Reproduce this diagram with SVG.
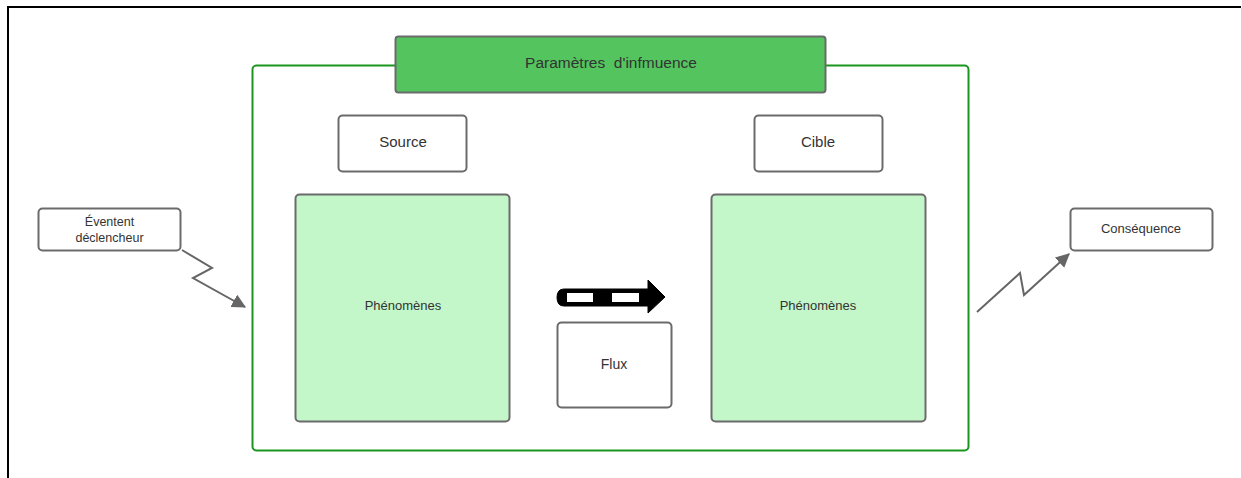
<svg xmlns="http://www.w3.org/2000/svg" width="1242" height="478" viewBox="0 0 1242 478">
  <defs>
    <style>
      .box { fill: #ffffff; stroke: #6b6b6b; stroke-width: 2; }
      .phen { fill: #c3f6c9; stroke: #6b6b6b; stroke-width: 2; }
      .title { fill: #54c45e; stroke: #6b6b6b; stroke-width: 2; }
      .txt { font-family: "Liberation Sans", Arial, sans-serif; fill: #333333; text-anchor: middle; dominant-baseline: central; }
      .wire { fill: none; stroke: #666666; stroke-width: 2; stroke-linejoin: miter; }
    </style>
    <marker id="tip" viewBox="0 0 12 12" refX="11" refY="6" markerWidth="14" markerHeight="14" markerUnits="userSpaceOnUse" orient="auto">
      <path d="M0,0 L12,6 L0,12 Z" fill="#666666"/>
    </marker>
  </defs>

  <rect width="1242" height="478" fill="#ffffff"/>

  <!-- page frame -->
  <g id="frame">
    <line x1="7" y1="7" x2="1241" y2="7" stroke="#000000" stroke-width="2"/>
    <line x1="8" y1="6" x2="8" y2="478" stroke="#000000" stroke-width="2"/>
    <line x1="1241.5" y1="8" x2="1241.5" y2="478" stroke="#d4d4d4" stroke-width="1"/>
  </g>

  <!-- container of the influence parameters -->
  <g id="container">
    <rect x="252.5" y="65.5" width="716" height="385" rx="4" fill="none" stroke="#1a961f" stroke-width="2"/>
  </g>

  <g id="parametres">
    <rect class="title" x="395.5" y="36.5" width="430" height="56" rx="3"/>
    <text class="txt" x="611" y="62" font-size="15.5">Paramètres&#160; d'infmuence</text>
  </g>

  <g id="source">
    <rect class="box" x="338.5" y="115.5" width="128" height="56" rx="4"/>
    <text class="txt" x="403" y="141" font-size="15">Source</text>
  </g>

  <g id="cible">
    <rect class="box" x="754.5" y="115.5" width="128" height="56" rx="4"/>
    <text class="txt" x="818" y="141" font-size="15">Cible</text>
  </g>

  <g id="phenomenes-source">
    <rect class="phen" x="295.5" y="194.5" width="214" height="227" rx="4"/>
    <text class="txt" x="403" y="305" font-size="13">Phénomènes</text>
  </g>

  <g id="phenomenes-cible">
    <rect class="phen" x="711.5" y="194.5" width="214" height="227" rx="4"/>
    <text class="txt" x="818" y="305" font-size="13">Phénomènes</text>
  </g>

  <g id="flux">
    <rect class="box" x="557.5" y="322.5" width="114" height="85" rx="4"/>
    <text class="txt" x="614" y="364" font-size="14">Flux</text>
  </g>

  <!-- dashed block arrow above the flux box -->
  <g id="fleche-flux">
    <path d="M564,289 L648,289 L648,280 L665,297 L648,313 L648,306 L564,306 Q557,306 557,297.5 Q557,289 564,289 Z" fill="#000000" stroke="#000000" stroke-width="1" stroke-linejoin="round"/>
    <rect x="567" y="293" width="26" height="9" fill="#ffffff"/>
    <rect x="612" y="293" width="27" height="9" fill="#ffffff"/>
  </g>

  <g id="evenement">
    <rect class="box" x="38.5" y="208.5" width="142" height="42" rx="4"/>
    <text class="txt" x="109.5" y="222" font-size="12.5">Éventent</text>
    <text class="txt" x="109.5" y="238" font-size="12.5">déclencheur</text>
  </g>

  <g id="consequence">
    <rect class="box" x="1070.5" y="208.5" width="142" height="42" rx="4"/>
    <text class="txt" x="1141" y="228" font-size="13">Conséquence</text>
  </g>

  <!-- connectors -->
  <g id="connecteurs">
    <path class="wire" d="M182,250 L212,268 L193,278 L245,307" marker-end="url(#tip)"/>
    <path class="wire" d="M977,312 L1020,273 L1024,295 L1069,254" marker-end="url(#tip)"/>
  </g>
</svg>
